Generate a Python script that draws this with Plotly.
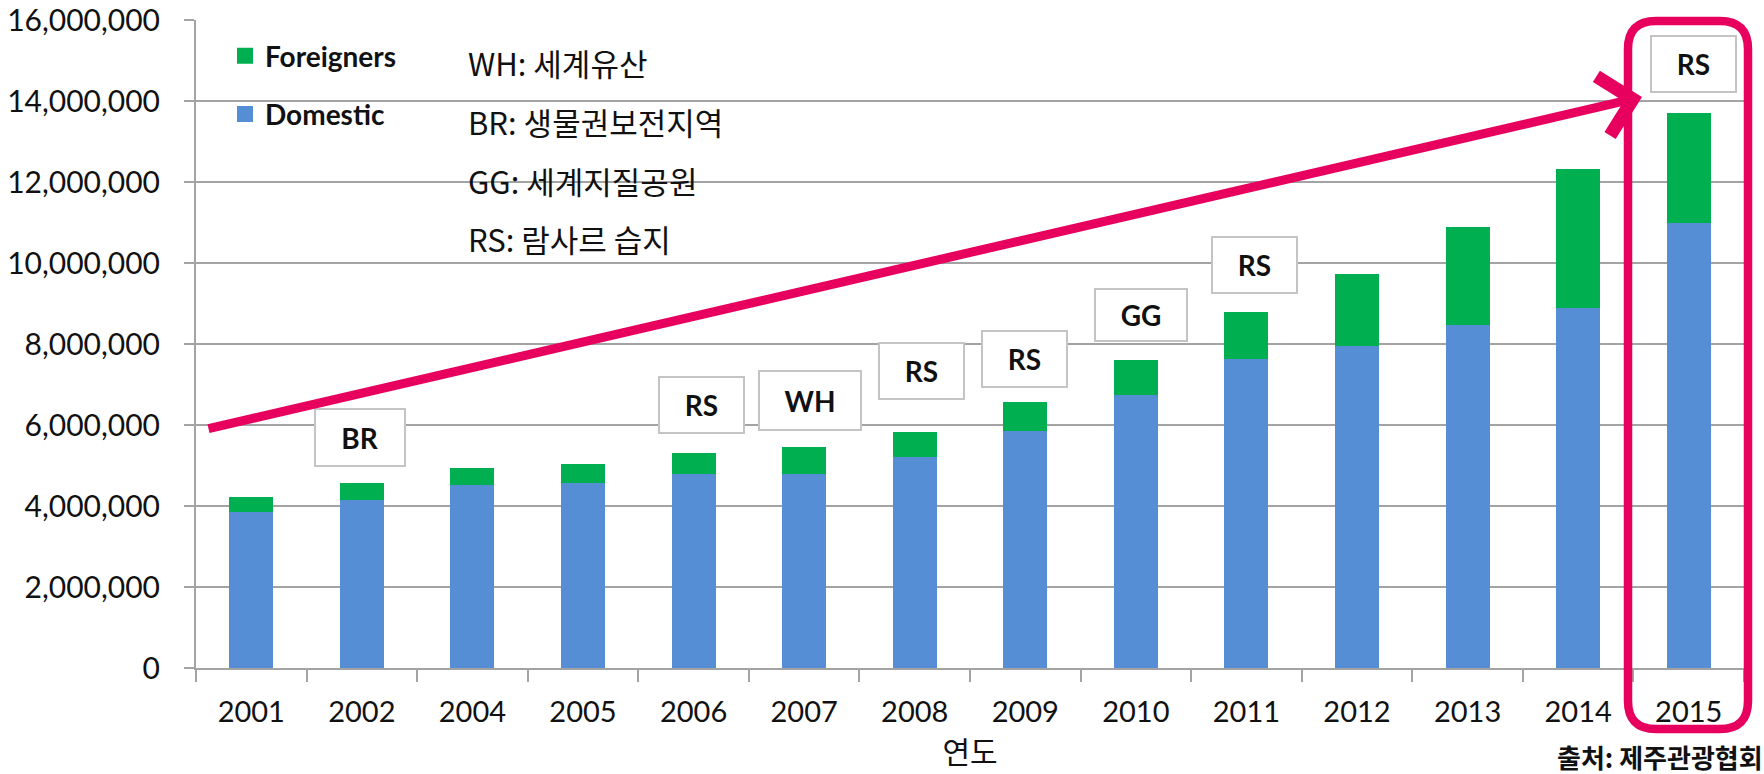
import plotly.graph_objects as go

# ---------------- data ----------------
years = ["2001", "2002", "2004", "2005", "2006", "2007", "2008",
         "2009", "2010", "2011", "2012", "2013", "2014", "2015"]
domestic = [3910000, 4190000, 4570000, 4620000, 4850000, 4850000, 5270000,
            5900000, 6790000, 7690000, 7990000, 8510000, 8940000, 11030000]
foreigners = [270000, 330000, 330000, 380000, 420000, 560000, 520000,
              610000, 770000, 1050000, 1700000, 2320000, 3320000, 2630000]

label_years = ["2002", "2006", "2007", "2008", "2009", "2010", "2011", "2015"]
label_texts = ["BR", "RS", "WH", "RS", "RS", "GG", "RS", "RS"]

note_lines = ["WH: 세계유산", "BR: 생물권보전지역", "GG: 세계지질공원", "RS: 람사르 습지"]
x_title = "연도"
source_text = "출처: 제주관광협회"
y_ticks = [0, 2000000, 4000000, 6000000, 8000000, 10000000, 12000000, 14000000, 16000000]

# ---------------- layout geometry / styles ----------------
W, H = 1764, 774
ML, MR, MT, MB = 196, 20, 20, 106
PW, PH = W - ML - MR, H - MT - MB

def px(x):
    return (x - ML) / PW

def py(y):
    return (H - MB - y) / PH

BLUE = "#558ED5"
GREEN = "#00B050"
PINK = "#E8005F"
GRID = "#A3A3A3"
TXT = "#111111"
LATIN = "Lato, 'Open Sans', sans-serif"
KR = "'Noto Sans CJK KR', sans-serif"

# per-label placement tweaks (pixels): gap above bar, horizontal shift
label_gap = [18, 21, 18, 34, 16, 20, 20, 22]
label_dx = [-2, 8, 6, 7, -1, 5, 8, 5]
box_w = {"BR": 88, "RS": 83, "WH": 100, "GG": 90}
box_h = {"BR": 55, "RS": 54, "WH": 57, "GG": 50}
OUTLINE = 4  # same-colour bar outline (also enlarges the legend swatch)

fig = go.Figure()
fig.add_trace(go.Bar(x=years, y=domestic, name="Domestic",
                     marker=dict(color=BLUE, line=dict(color=BLUE, width=OUTLINE)),
                     legendgroup="d", legendrank=2))
fig.add_trace(go.Bar(x=years, y=foreigners, name="Foreigners",
                     marker=dict(color=GREEN, line=dict(color=GREEN, width=OUTLINE)),
                     legendgroup="f", legendrank=1))

totals = [d + f for d, f in zip(domestic, foreigners)]

annotations = []
for yr, t, g, dx in zip(label_years, label_texts, label_gap, label_dx):
    i = years.index(yr)  # category serial number
    annotations.append(dict(
        x=i, y=totals[i], xref="x", yref="y", text=f"<b>{t}</b>",
        showarrow=False, yanchor="bottom", xanchor="center", yshift=g, xshift=dx,
        width=box_w[t], height=box_h[t], bgcolor="white", bordercolor="#C4C4C4",
        borderwidth=2, borderpad=0, font=dict(family=LATIN, size=28, color=TXT)))

for i, line in enumerate(note_lines):
    annotations.append(dict(
        x=px(466), y=py(63 + i * 58.5), xref="paper", yref="paper", text=line,
        showarrow=False, xanchor="left", yanchor="middle",
        font=dict(family=KR, size=31, color=TXT)))

annotations.append(dict(
    x=px(1555), y=py(756), xref="paper", yref="paper", text=source_text,
    showarrow=False, xanchor="left", yanchor="middle",
    font=dict(family=KR, size=26, color=TXT, weight="bold")))

# pink trend arrow
tip = (1642, 97)
tail = (207, 429)
annotations.append(dict(
    x=px(tip[0]), y=py(tip[1]), xref="paper", yref="paper",
    ax=tail[0] - tip[0], ay=tail[1] - tip[1], axref="pixel", ayref="pixel",
    text="", showarrow=True, arrowhead=4, arrowsize=1.3, arrowwidth=9,
    arrowcolor=PINK, standoff=0, startstandoff=0))

# rounded frame around 2015
x0, x1, y0, y1, r = 1628, 1748, 21, 729, 28
def P(x, y):
    return f"{px(x):.5f},{py(y):.5f}"
path = (f"M{P(x0 + r, y0)} L{P(x1 - r, y0)} Q{P(x1, y0)} {P(x1, y0 + r)} "
        f"L{P(x1, y1 - r)} Q{P(x1, y1)} {P(x1 - r, y1)} "
        f"L{P(x0 + r, y1)} Q{P(x0, y1)} {P(x0, y1 - r)} "
        f"L{P(x0, y0 + r)} Q{P(x0, y0)} {P(x0 + r, y0)} Z")
shapes = [dict(type="path", path=path, xref="paper", yref="paper",
               line=dict(color=PINK, width=8.5), fillcolor="rgba(0,0,0,0)",
               layer="above")]

fig.update_layout(
    width=W, height=H, margin=dict(l=ML, r=MR, t=MT, b=MB),
    paper_bgcolor="white", plot_bgcolor="white",
    barmode="stack", bargap=1 - (44 - OUTLINE) / (PW / len(years)),
    showlegend=True,
    legend=dict(x=px(225), y=py(31), xref="paper", yref="paper",
                xanchor="left", yanchor="top",
                traceorder="grouped", tracegroupgap=19,
                bgcolor="rgba(0,0,0,0)",
                font=dict(family=LATIN, size=28, color=TXT, weight="bold")),
    xaxis=dict(type="category", range=[-0.5, len(years) - 0.5], automargin=False,
               showline=True, linecolor=GRID, linewidth=2,
               ticks="outside", ticklen=12, tickwidth=2, tickcolor=GRID,
               tickson="boundaries", showgrid=False, tickangle=0,
               tickfont=dict(family=LATIN, size=29, color=TXT),
               ticklabelstandoff=17,
               title=dict(text=x_title, font=dict(family=KR, size=30, color=TXT),
                          standoff=12)),
    yaxis=dict(range=[0, 16000000], tickvals=y_ticks, tickformat=",d",
               automargin=False,
               showline=True, linecolor=GRID, linewidth=2,
               ticks="outside", ticklen=10, tickwidth=2, tickcolor=GRID,
               showgrid=True, gridcolor=GRID, gridwidth=2, zeroline=False,
               tickfont=dict(family=LATIN, size=30, color=TXT),
               ticklabelstandoff=18),
    annotations=annotations, shapes=shapes,
)

# remove the browser's default 8px page margin so the figure fills the window
fig.write_html("out.html", config={"displayModeBar": False},
               post_script="document.body.style.margin='0';")
